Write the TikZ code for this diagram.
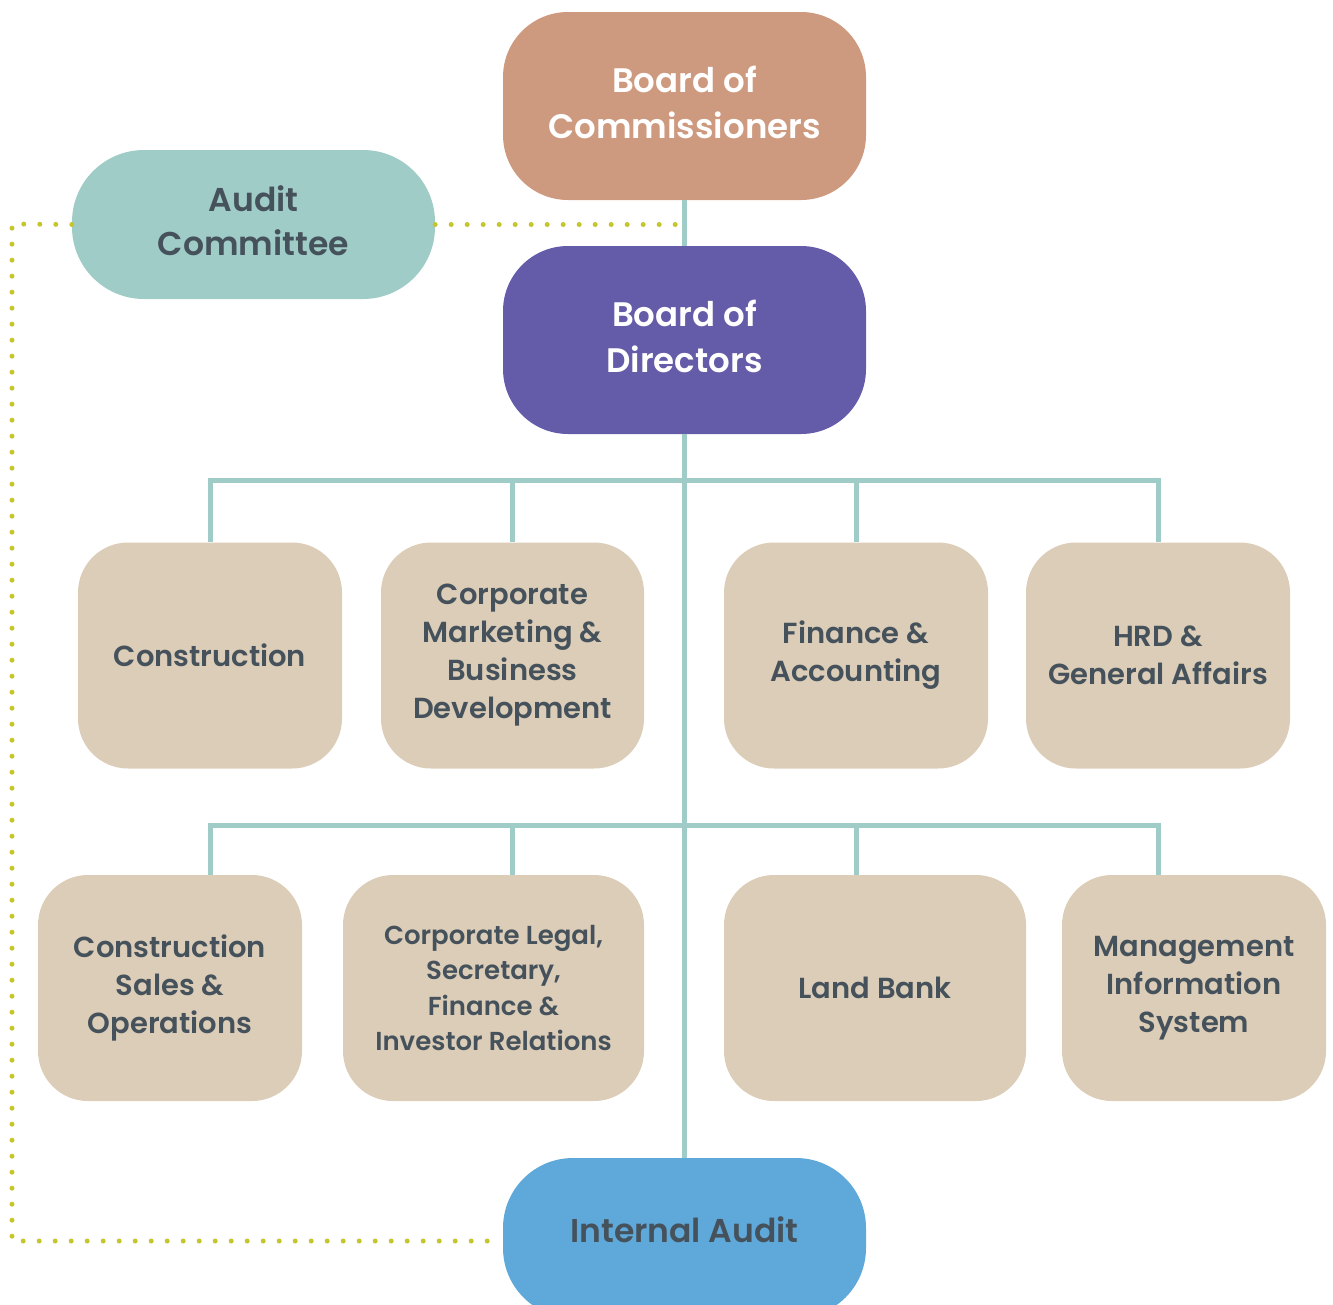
\documentclass[tikz,border=0pt]{standalone}
\usepackage{fontspec}
\setmainfont{Poppins SemiBold}
\usetikzlibrary{positioning}
\definecolor{commclr}{HTML}{CE9A7F}
\definecolor{dirclr}{HTML}{645CA8}
\definecolor{acclr}{HTML}{9FCCC7}
\definecolor{unitclr}{HTML}{DCCDB8}
\definecolor{iaclr}{HTML}{5FA8DA}
\definecolor{dotclr}{HTML}{C6C62C}
\definecolor{txtclr}{HTML}{46525B}
\begin{document}
\begin{tikzpicture}[x=1pt,y=-1pt,
  board/.style={rectangle, fill=#1, rounded corners=65pt, inner sep=0pt,
    minimum width=363pt, minimum height=188pt, align=center, text=white,
    text depth=8pt, font=\fontsize{34}{46}\selectfont},
  unit/.style={rectangle, fill=unitclr, rounded corners=50pt, inner sep=0pt,
    minimum width=#1, minimum height=226pt, align=center, text=txtclr,
    font=\fontsize{29}{38}\selectfont},
  unit/.default=264pt,
  link/.style={draw=acclr, line width=5pt},
  dots/.style={draw=dotclr, line width=5pt, line cap=round,
    dash pattern=on 0pt off 16pt}
]
\useasboundingbox (0,0) rectangle (1333,1304);

\coordinate (bus1) at (684.5,480);
\coordinate (bus2) at (684.5,825);
\coordinate (dl) at (12,224);

\node[board=commclr] (boc) at (684.5,106) {Board of\\Commissioners};
\node[board=dirclr] (bod) at (684.5,340) {Board of\\Directors};
\node[board=acclr, text=txtclr, rounded corners=72pt, minimum height=149pt,
  font=\fontsize{33}{44}\selectfont] (ac) at (253.5,224.5) {Audit\\Committee};
\node[board=iaclr, text=txtclr, rounded corners=70pt, minimum height=160pt,
  text depth=16pt, font=\fontsize{33}{44}\selectfont] (ia) at (684.5,1238)
  {Internal Audit};

\node[unit] (cons) at (210,655.5) {Construction};
\node[unit=263pt] (mkt) at (512.5,655.5) {Corporate\\Marketing \&\\Business\\Development};
\node[unit] (fin) at (856,655.5) {Finance \&\\Accounting};
\node[unit] (hrd) at (1158,655.5) {HRD \&\\General Affairs};

\node[unit] (csales) at (170,988) {Construction\\Sales \&\\Operations};
\node[unit=301pt, font=\fontsize{26}{35.5}\selectfont] (legal) at (493.5,988)
  {Corporate Legal,\\Secretary,\\Finance \&\\Investor Relations};
\node[unit=302pt] (land) at (875,988) {Land Bank};
\node[unit] (mis) at (1194,988) {Management\\Information\\System};

% connectors
\draw[link] (boc.south) -- (bod.north);
\draw[link] (bod.south) -- (ia.north);
\foreach \n in {cons,mkt,fin,hrd}
  \draw[link] (\n.north) |- (bus1);
\foreach \n/\m in {cons/csales,mkt/legal,fin/land,hrd/mis}
  \draw[link] (\m.north -| \n) |- (bus2);

\draw[dots] (ac.east) -- (ac.east -| boc.south);
\draw[dots] (ac.west) -- (dl) |- ([yshift=-3pt]ia.west);

\end{tikzpicture}
\end{document}
